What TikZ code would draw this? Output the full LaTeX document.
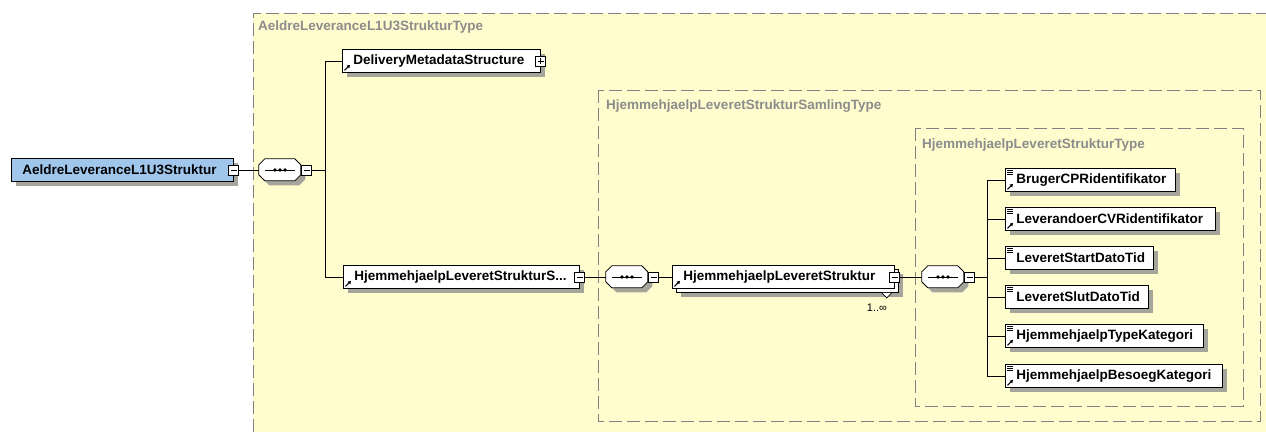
\documentclass[tikz,border=0pt]{standalone}
\usepackage{fontspec}
\setmainfont{Liberation Sans}
\usetikzlibrary{arrows.meta}
\pgfdeclarelayer{back}
\pgfdeclarelayer{shad}
\pgfsetlayers{back,shad,main}
\definecolor{bgyellow}{RGB}{255,253,206}
\definecolor{rootblue}{RGB}{160,198,236}
\definecolor{dashgray}{RGB}{128,128,128}
\definecolor{titlegray}{RGB}{140,140,140}
\definecolor{shadowcol}{RGB}{165,165,155}
\newcommand\lbox[2]{\makebox[#1pt][l]{#2}}
\newcommand\octpath[3]{([xshift=#2,yshift=#3]#1.north west) ++(6,0) -- ++(30,0) -- ++(6,6) -- ++(0,10) -- ++(-6,6) -- ++(-30,0) -- ++(-6,-6) -- ++(0,-10) -- cycle}
\newcommand\compshape[1]{%
  \begin{pgfonlayer}{shad}\fill[shadowcol] \octpath{#1}{4.5pt}{-4.5pt};\end{pgfonlayer}
  \draw[line width=0.8pt,fill=white] \octpath{#1}{0pt}{0pt};
  \draw[line width=0.9pt] ([xshift=6pt]#1.west) -- ([xshift=-6pt]#1.east);
  \fill ([xshift=-5pt]#1.center) circle (1.9pt) (#1.center) circle (1.9pt) ([xshift=5pt]#1.center) circle (1.9pt);
}
\newcommand\shadowof[1]{%
  \begin{pgfonlayer}{shad}\fill[shadowcol] ([xshift=4.5pt,yshift=-4.5pt]#1.north west) rectangle ([xshift=4.5pt,yshift=-4.5pt]#1.south east);\end{pgfonlayer}}
\begin{document}
\begin{tikzpicture}[x=1pt,y=-1pt,
  font=\fontsize{13.5}{16}\selectfont\bfseries,
  elem/.style={draw=black,line width=0.8pt,fill=white,anchor=west,
    minimum height=23pt,inner xsep=11pt,inner ysep=0pt},
  rootelem/.style={elem,fill=rootblue},
  backbox/.style={draw=black,line width=0.8pt,fill=white,anchor=west,
    minimum height=23pt,inner sep=0pt},
  minusbox/.style={draw=black,line width=0.7pt,fill=white,minimum size=10pt,inner sep=0pt,
    path picture={\draw[line width=0.8pt] ([xshift=2pt]path picture bounding box.west) -- ([xshift=-2pt]path picture bounding box.east);}},
  plusbox/.style={draw=black,line width=0.7pt,fill=white,minimum size=10pt,inner sep=0pt,
    path picture={\draw[line width=0.8pt] ([xshift=2pt]path picture bounding box.west) -- ([xshift=-2pt]path picture bounding box.east)
      ([yshift=-2pt]path picture bounding box.north) -- ([yshift=2pt]path picture bounding box.south);}},
  comp/.style={minimum width=42pt,minimum height=22pt,inner sep=0pt},
  conn/.style={draw=black,line width=0.9pt},
  cont/.style={draw=dashgray,line width=1pt,dash pattern=on 13pt off 5pt},
  title/.style={text=titlegray,anchor=west,inner sep=0pt},
  refarr/.pic={\draw[line width=1pt,-{Triangle[length=3pt,width=3.5pt]}] (2.5,-2.5) -- (8,-8);},
  simp/.pic={\draw[line width=0.7pt] (2.3,2.7) -- (7.7,2.7) (2.3,4.7) -- (7.7,4.7) (2.3,6.7) -- (7.7,6.7);}
]
\useasboundingbox (0,0) rectangle (1266,432);

% containers
\begin{pgfonlayer}{back}
\fill[white] (0,0) rectangle (1266,432);
\fill[bgyellow] (253,13) rectangle (1266,432);
\draw[cont] (253,432) -- (253,13) -- (1266,13);
\draw[cont] (598,90) rectangle (1260,421);
\draw[cont] (915,128) rectangle (1243,406);
\end{pgfonlayer}
\node[title] (t1) at (258,27) {AeldreLeveranceL1U3StrukturType};
\node[title] (t2) at (606,106) {HjemmehjaelpLeveretStrukturSamlingType};
\node[title] (t3) at (922,145) {HjemmehjaelpLeveretStrukturType};

% root
\node[rootelem] (root) at (11,170) {\lbox{200}{AeldreLeveranceL1U3Struktur}};
\shadowof{root}
\node[minusbox] (rootm) at (root.east) {};

% sequence 1
\node[comp] (c1) at (280,170) {};
\compshape{c1}
\node[minusbox,anchor=west] (m1) at (c1.east) {};

% first level
\node[elem] (dm) at (342,61) {\lbox{176}{DeliveryMetadataStructure}};
\shadowof{dm}
\node[plusbox] (dmp) at (dm.east) {};
\pic at (dm.south west) {refarr};

\node[elem] (hjs) at (343,277) {\lbox{214}{HjemmehjaelpLeveretStrukturS...}};
\shadowof{hjs}
\node[minusbox] (hjsm) at (hjs.east) {};
\pic at (hjs.south west) {refarr};

% sequence 2
\node[comp] (c2) at (627,277) {};
\compshape{c2}
\node[minusbox,anchor=west] (m2) at (c2.east) {};

% multiple element
\node[backbox,minimum width=222pt] (hjlback) at (676,281) {};
\shadowof{hjlback}
\draw[line width=0.7pt,fill=white] ([xshift=-17pt]hjlback.south east) -- ++(5,5) -- ++(5,-5);
\node[elem] (hjl) at (672,277) {\lbox{200}{HjemmehjaelpLeveretStruktur}};
\node[minusbox] (hjlm) at (hjl.east) {};
\pic at (hjl.south west) {refarr};
\node[font=\fontsize{11}{13}\selectfont,inner sep=0pt] (mult) at (877,308) {1..∞};

% sequence 3
\node[comp] (c3) at (943,277) {};
\compshape{c3}
\node[minusbox,anchor=west] (m3) at (c3.east) {};

% children
\node[elem] (k1) at (1005,180) {\lbox{148}{BrugerCPRidentifikator}};
\shadowof{k1}
\pic at (k1.north west) {simp}; \pic at (k1.south west) {refarr};
\node[elem] (k2) at (1005,219) {\lbox{188}{LeverandoerCVRidentifikator}};
\shadowof{k2}
\pic at (k2.north west) {simp}; \pic at (k2.south west) {refarr};
\node[elem] (k3) at (1005,258) {\lbox{126}{LeveretStartDatoTid}};
\shadowof{k3}
\pic at (k3.north west) {simp};
\node[elem] (k4) at (1005,297) {\lbox{121}{LeveretSlutDatoTid}};
\shadowof{k4}
\pic at (k4.north west) {simp};
\node[elem] (k5) at (1005,336) {\lbox{176}{HjemmehjaelpTypeKategori}};
\shadowof{k5}
\pic at (k5.north west) {simp}; \pic at (k5.south west) {refarr};
\node[elem] (k6) at (1005,376) {\lbox{195}{HjemmehjaelpBesoegKategori}};
\shadowof{k6}
\pic at (k6.north west) {simp}; \pic at (k6.south west) {refarr};

% connectors
\coordinate (b1) at (325,170);
\coordinate (b3) at (987,277);
\draw[conn] (rootm.east) -- (c1.west);
\draw[conn] (m1.east) -- (b1);
\draw[conn] (b1) |- (dm.west);
\draw[conn] (b1) |- (hjs.west);
\draw[conn] (hjsm.east) -- (c2.west);
\draw[conn] (m2.east) -- (hjl.west);
\draw[conn] (hjlm.east) -- (c3.west);
\draw[conn] (m3.east) -- (b3);
\foreach \k in {k1,k2,k3,k4,k5,k6} { \draw[conn] (b3) |- (\k.west); }
\end{tikzpicture}
\end{document}
